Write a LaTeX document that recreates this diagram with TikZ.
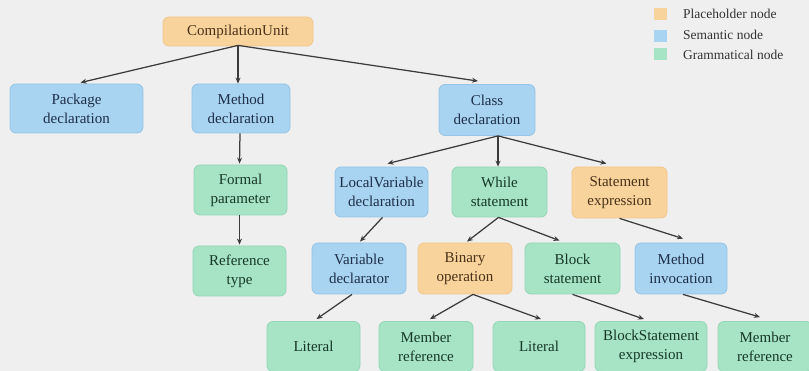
\documentclass[tikz,border=0pt]{standalone}
\usepackage{fontspec}
\setmainfont{Liberation Serif}
\usetikzlibrary{arrows.meta,calc}

\definecolor{bg}{HTML}{EFEFEF}
\definecolor{phfill}{HTML}{F8D39C}
\definecolor{phedge}{HTML}{F0C68C}
\definecolor{phtext}{HTML}{4A3218}
\definecolor{semfill}{HTML}{A8D3F1}
\definecolor{semedge}{HTML}{96C4E6}
\definecolor{semtext}{HTML}{1E2F48}
\definecolor{gramfill}{HTML}{A6E4C5}
\definecolor{gramedge}{HTML}{94D6B5}
\definecolor{gramtext}{HTML}{173826}
\definecolor{wire}{HTML}{3C3C3C}
\definecolor{legtext}{HTML}{333333}

\tikzset{
  box/.style={rounded corners=6pt, align=center, inner sep=0pt,
    line width=0.8pt, font=\fontsize{15}{19}\selectfont},
  ph/.style={box, fill=phfill, draw=phedge, text=phtext},
  sem/.style={box, fill=semfill, draw=semedge, text=semtext},
  gram/.style={box, fill=gramfill, draw=gramedge, text=gramtext},
  sz/.style 2 args={minimum width=#1pt, minimum height=#2pt},
  link/.style={draw=wire, line width=1.25pt,
    -{Stealth[length=6pt,width=5pt]}},
  legbox/.style={minimum width=13pt, minimum height=12pt, inner sep=0pt},
  legtxt/.style={anchor=west, inner sep=0pt, text=legtext,
    font=\fontsize{13.5}{16}\selectfont},
}

\begin{document}
\begin{tikzpicture}[x=1pt,y=-1pt]
  \fill[bg] (0,0) rectangle (809,371);
  \useasboundingbox (0,0) rectangle (809,371);
  \clip (0,0) rectangle (809,371);

  % tree nodes
  \node[ph,  sz={150}{29}] (cu)  at (238,31.5)  {CompilationUnit};
  \node[sem, sz={133}{49}] (pkg) at (76.5,108.5) {Package\\declaration};
  \node[sem, sz={98}{49}]  (mth) at (241,108.5) {Method\\declaration};
  \node[sem, sz={96}{51}]  (cls) at (487,110)   {Class\\declaration};

  \node[gram, sz={93}{50}] (fp)  at (240.5,190) {Formal\\parameter};
  \node[gram, sz={93}{50}] (rt)  at (239.5,271) {Reference\\type};

  \node[sem,  sz={93}{50}] (lv)  at (381.5,192) {LocalVariable\\declaration};
  \node[gram, sz={95}{50}] (ws)  at (499.5,192) {While\\statement};
  \node[ph,   sz={95}{51}] (se)  at (619.5,192.5) {Statement\\expression};

  \node[sem,  sz={94}{51}] (vd)  at (359,268.5) {Variable\\declarator};
  \node[ph,   sz={94}{51}] (bo)  at (465,268.5) {Binary\\operation};
  \node[gram, sz={95}{51}] (bs)  at (572.5,268.5) {Block\\statement};
  \node[sem,  sz={92}{51}] (mi)  at (681,268.5) {Method\\invocation};

  \node[gram, sz={93}{50}]  (lit1) at (313.5,346.5) {Literal};
  \node[gram, sz={94}{50}]  (mr1)  at (426,346.5)   {Member\\reference};
  \node[gram, sz={92}{50}]  (lit2) at (539,346.5)   {Literal};
  \node[gram, sz={112}{50}] (bse)  at (651,346.5)   {BlockStatement\\expression};
  \node[gram, sz={94}{50}]  (mr2)  at (765,346.5)   {Member\\reference};

  % connectors
  \coordinate (cuo) at ($(cu.south)+(0,-1)$);
  \draw[link] (cuo) -- ($(pkg.north)+(4,-1)$);
  \draw[link] (cuo) -- (cuo |- mth.north);
  \draw[link] (cuo) -- ($(cls.north)+(-9,-3)$);

  \draw[link] ($(mth.south)+(-1,0)$) -- ($(fp.north)+(-1,-1)$);
  \draw[link] ($(fp.south)+(-1,0)$) -- ($(rt.north)+(0,-1)$);

  \coordinate (clso) at ($(cls.south)+(11,0)$);
  \draw[link] (clso) -- ($(lv.north)+(6,-3)$);
  \draw[link] (clso) -- (clso |- ws.north);
  \draw[link] (clso) -- ($(se.north)+(-13,-3)$);

  \draw[link] ($(lv.south)+(1,0)$) -- ($(vd.north)+(1,-1)$);
  \coordinate (wso) at ($(ws.south)+(-1,0)$);
  \draw[link] (wso) -- ($(bo.north)+(2,-1)$);
  \draw[link] (wso) -- ($(bs.north)+(-13,-2)$);
  \draw[link] ($(se.south)+(0,0)$) -- ($(mi.north)+(2,-4)$);

  \draw[link] ($(vd.south)+(-7,0)$) -- ($(lit1.north)+(3,-2)$);
  \coordinate (boo) at ($(bo.south)+(8,0)$);
  \draw[link] (boo) -- ($(mr1.north)+(4,-2)$);
  \draw[link] (boo) -- ($(lit2.north)+(2,-2)$);
  \draw[link] ($(bs.south)+(0,0)$) -- ($(bse.north)+(-7,-2)$);
  \draw[link] ($(mi.south)+(2,0)$) -- ($(mr2.north)+(-5,-4)$);

  % legend
  \node[legbox, fill=phfill]   (lp) at (660,14) {};
  \node[legbox, fill=semfill]  (ls) at (660,36) {};
  \node[legbox, fill=gramfill] (lg) at (660,54) {};
  \node[legtxt] at (683,14) {Placeholder node};
  \node[legtxt] at (683,35) {Semantic node};
  \node[legtxt] at (683,55) {Grammatical node};
\end{tikzpicture}
\end{document}
